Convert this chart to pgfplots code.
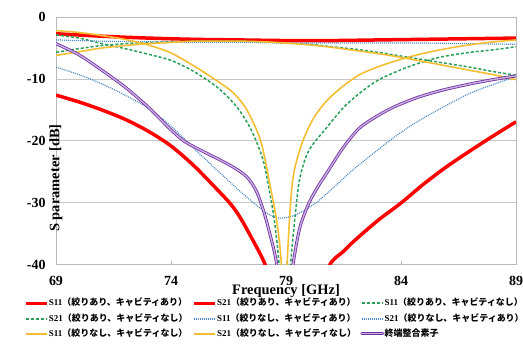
\documentclass[border=0pt]{standalone}
\usepackage{fontspec}
\setmainfont{Liberation Serif}
\newfontfamily\jp{Noto Sans CJK JP Bold}
\usepackage{pgfplots}
\pgfplotsset{compat=1.18}
\definecolor{cRed}{RGB}{255,0,0}
\definecolor{cGreen}{RGB}{40,160,90}
\definecolor{cBlue}{RGB}{80,140,200}
\definecolor{cYel}{RGB}{245,190,50}
\definecolor{cPur}{RGB}{112,48,160}
\definecolor{cPurL}{RGB}{200,175,225}
\newcommand{\LE}[2]{\makebox[143bp][l]{\bfseries #1\jp #2}}
\begin{document}
\begin{tikzpicture}
\begin{axis}[
  at={(0,0)}, anchor=south west,
  scale only axis, width=460bp, height=248bp,
  xmin=69, xmax=89, ymin=-40, ymax=0,
  xtick={69,74,79,84,89}, ytick={-40,-30,-20,-10,0},
  ymajorgrids, grid style={draw=gray!45, line width=1bp},
  axis line style={draw=gray!55, line width=1bp},
  tick align=inside, xtick pos=left, major tick length=4bp,
  xtick style={draw=gray!60, line width=0.8bp}, ytick style={draw=none},
  /pgf/number format/assume math mode=true,
  ticklabel style={font=\fontsize{14}{16}\selectfont\bfseries},
  xticklabel style={yshift=-8bp},
  yticklabel style={xshift=-7bp},
  xlabel={Frequency [GHz]}, ylabel={S parameter [dB]},
  label style={font=\fontsize{14.5}{16}\selectfont\bfseries},
  xlabel style={at={(rel axis cs:0.5,0)}, anchor=base, yshift=-29bp},
  ylabel style={at={(rel axis cs:0,0.5)}, anchor=center, xshift=-37bp},
  legend columns=3,
  legend cell align=left,
  legend image code/.code={\draw[#1] (0bp,0bp) -- (21bp,0bp);},
  legend style={at={(0,0)}, anchor=north west, xshift=-32bp, yshift=-33bp,
    draw=none, fill=none, inner sep=0pt, row sep=4.5bp, column sep=0pt,
    font=\fontsize{9}{10}\selectfont,
    nodes={inner sep=0.3bp, text height=7.5bp, text depth=2.5bp}},
]
% S11 red
\addplot[cRed, line width=3.5bp, smooth] coordinates {
(69,-12.6)(70,-13.7)(71,-15.0)(72,-16.5)(73,-18.4)(74,-20.8)(75,-24.0)(76,-27.8)(76.6,-30.2)(77,-32.3)(77.5,-35.6)(78.1,-40)(78.6,-46)(79.5,-55)(80.4,-46)(80.9,-40)(81.5,-37.8)(82,-36)(83,-32.8)(84,-30)(85,-26.9)(86,-24.1)(87,-21.6)(88,-19.2)(89,-16.9)};
\addlegendentry{\LE{S11}{（絞りあり、キャビティあり）}}
% S21 red
\addplot[cRed, line width=3.5bp, smooth] coordinates {
(69,-2.7)(71,-3.1)(73,-3.4)(75,-3.6)(77,-3.7)(79,-3.8)(81,-3.8)(83,-3.7)(85,-3.6)(87,-3.5)(89,-3.4)};
\addlegendentry{\LE{S21}{（絞りあり、キャビティあり）}}
% S11 green
\addplot[cGreen, line width=1.5bp, dash pattern=on 3bp off 2bp, smooth, legend image post style={line width=2bp}] coordinates {
(69,-2.9)(70,-3.4)(71,-4.3)(72,-5.1)(73,-6.0)(74,-7.0)(75,-8.8)(76,-11.3)(76.6,-13.4)(77,-15.2)(77.5,-18.3)(78,-23)(78.3,-28.5)(78.5,-33)(78.7,-40)(78.95,-55)(79.2,-40)(79.4,-32)(79.6,-26)(80,-21.5)(80.8,-17.7)(81.5,-14.6)(82.2,-12.3)(83,-10.2)(84,-8.5)(84.9,-7.3)(85.8,-6.4)(87,-5.7)(88,-5.3)(89,-4.8)};
\addlegendentry{\LE{S11}{（絞りあり、キャビティなし）}}
% S21 green
\addplot[cGreen, line width=1.5bp, dash pattern=on 3bp off 2bp, smooth, legend image post style={line width=2bp}] coordinates {
(69,-5.7)(70,-5.1)(71,-4.6)(72,-4.3)(73,-4.1)(74,-4.0)(75,-3.9)(76,-3.9)(77,-3.9)(78,-4.0)(79,-4.2)(80,-4.4)(81,-4.8)(82,-5.2)(83,-5.7)(84,-6.3)(85,-6.9)(86,-7.5)(87,-8.1)(88,-8.8)(89,-9.4)};
\addlegendentry{\LE{S21}{（絞りあり、キャビティなし）}}
% S11 blue
\addplot[cBlue, line width=1.2bp, dash pattern=on 1bp off 1bp, smooth, legend image post style={line width=2bp}] coordinates {
(69,-8.1)(70,-9.3)(71,-10.8)(72,-12.6)(73,-14.7)(74,-17.6)(75,-21.2)(76,-24.7)(77,-28.1)(78,-31.2)(78.6,-32.4)(79.2,-32.2)(79.7,-31.4)(80.3,-30)(80.8,-28.4)(81.9,-24.7)(82.8,-22)(83.7,-19.4)(84.7,-16.9)(85.8,-14.6)(87,-12.3)(88,-10.9)(89,-9.6)};
\addlegendentry{\LE{S11}{（絞りなし、キャビティあり）}}
% S21 blue
\addplot[cBlue, line width=1.2bp, dash pattern=on 1bp off 1bp, smooth, legend image post style={line width=2bp}] coordinates {
(69,-3.7)(71,-3.9)(73,-4.0)(75,-4.1)(77,-4.1)(79,-4.2)(81,-4.2)(83,-4.2)(85,-4.2)(87,-4.3)(89,-4.4)};
\addlegendentry{\LE{S21}{（絞りなし、キャビティあり）}}
% S11 yellow
\addplot[cYel, line width=1.6bp, smooth, legend image post style={line width=2.2bp}] coordinates {
(69,-2.2)(70,-2.5)(71,-3.0)(72,-3.6)(73,-4.5)(74,-5.8)(75,-7.9)(76,-10.3)(76.7,-12.2)(77.3,-15)(77.9,-20)(78.3,-27)(78.6,-33)(78.8,-40)(78.95,-55)(79.05,-40)(79.2,-30)(79.35,-25)(79.7,-20.3)(80.2,-16.3)(80.8,-13.4)(81.5,-11.1)(82.2,-9.3)(83.1,-7.9)(84.2,-6.6)(85.3,-5.6)(86.6,-4.7)(87.8,-4.1)(89,-3.7)};
\addlegendentry{\LE{S11}{（絞りなし、キャビティなし）}}
% S21 yellow
\addplot[cYel, line width=1.6bp, smooth, legend image post style={line width=2.2bp}] coordinates {
(69,-6.2)(70,-5.6)(71,-5.0)(72,-4.6)(73,-4.3)(74,-4.1)(75,-3.9)(76,-3.9)(77,-3.9)(78,-4.0)(79,-4.2)(80,-4.5)(81,-4.9)(82,-5.4)(83,-5.9)(84,-6.5)(85,-7.2)(86,-7.9)(87,-8.6)(88,-9.3)(89,-10.1)};
\addlegendentry{\LE{S21}{（絞りなし、キャビティなし）}}
% termination
\addplot[draw=cPur, line width=0.8bp, double=cPurL, double distance=1.4bp, smooth, line cap=round] coordinates {
(69,-4.3)(70,-6.1)(71,-8.6)(72,-11.3)(73,-14.5)(74,-18.2)(74.6,-20.1)(75.3,-21.5)(76,-22.8)(76.7,-24.2)(77.3,-25.8)(77.7,-28)(78,-31)(78.3,-35)(78.6,-40)(78.9,-50)(79.3,-40)(79.6,-34)(80,-30)(80.4,-27.3)(80.8,-25)(81.5,-21)(82.2,-17.9)(83,-15.9)(83.7,-14.5)(84.7,-13)(85.8,-11.8)(87,-10.8)(88,-10.1)(89,-9.5)};
\addlegendentry{\LE{}{終端整合素子}}
\end{axis}
\pgfresetboundingbox
\path (-56bp,-84bp) rectangle (467bp,265bp);
\end{tikzpicture}
\end{document}
